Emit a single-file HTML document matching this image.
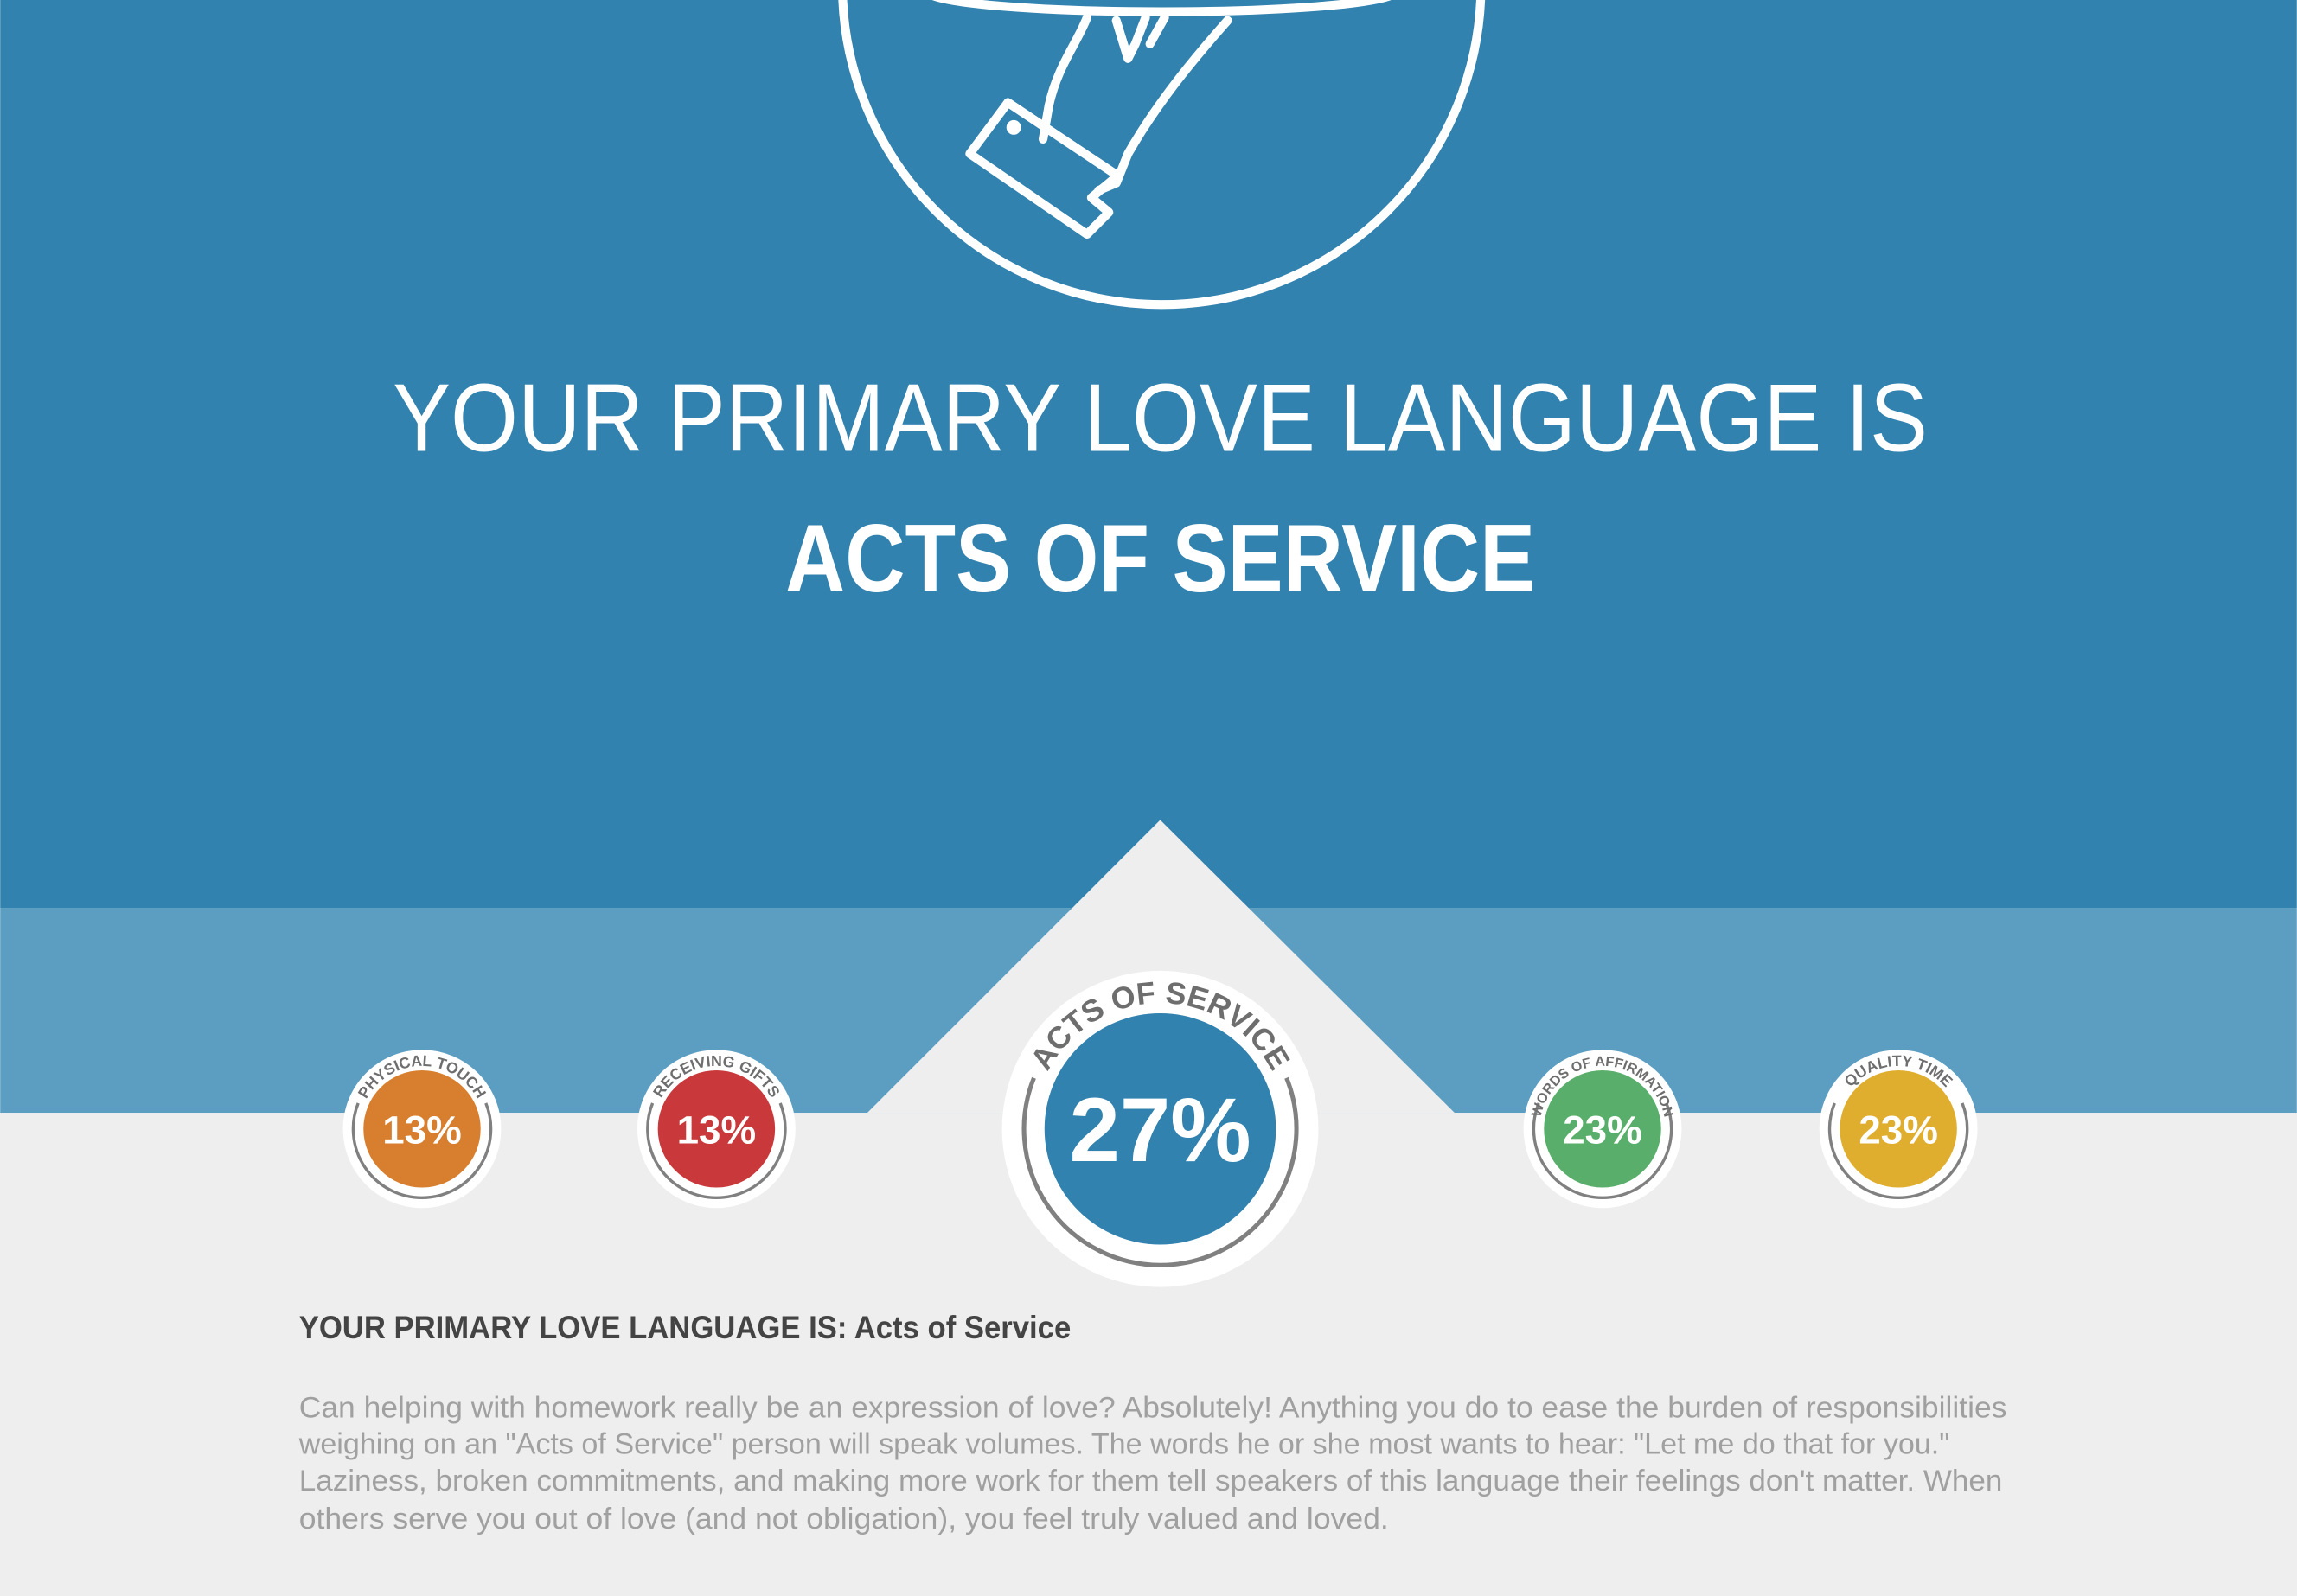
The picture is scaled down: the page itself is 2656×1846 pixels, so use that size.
<!DOCTYPE html>
<html><head><meta charset="utf-8"><style>
html,body{margin:0;padding:0;background:#eeeeee}
svg{display:block}
text{font-family:"Liberation Sans",sans-serif}
</style></head><body>
<svg id="chart" width="2656" height="1846" viewBox="0 0 1568 1090" xmlns="http://www.w3.org/2000/svg">
<rect x="0" y="0" width="1568" height="620" fill="#3182af"/>
<rect x="0" y="620" width="1568" height="140" fill="#5b9ec2"/>
<rect x="0" y="760" width="1568" height="330" fill="#eeeeee"/>
<polygon points="792,560 993,760 592,760" fill="#eeeeee"/>
<g fill="none" stroke="#fff" stroke-width="6" stroke-linejoin="round" stroke-linecap="round">
<circle cx="793" cy="-10" r="218"/>
<ellipse cx="793" cy="-6" rx="160" ry="14"/>
<path d="M742,12 C735,30 722,45 716,72 L712,95"/>
<path d="M762,14 L770,40 L775,30 L782,12"/>
<path d="M785,30 L795,12"/>
<path d="M838,14 C815,40 790,70 770,105 L762,125 L750,130"/>
<path d="M688,70 L662,105 L742,160 L757,145 L745,135 L763,120 Z"/>
<path d="M688,70 L763,120"/>
<circle cx="692" cy="87" r="2" fill="#fff"/>
</g>
<text x="792" y="308" text-anchor="middle" font-size="66" fill="#fff" textLength="1048" lengthAdjust="spacingAndGlyphs">YOUR PRIMARY LOVE LANGUAGE IS</text>
<text x="792" y="404" text-anchor="middle" font-size="66" font-weight="bold" fill="#fff" textLength="512" lengthAdjust="spacingAndGlyphs">ACTS OF SERVICE</text>
<g id="badges"></g>
<text x="204" y="914" font-size="22" font-weight="bold" fill="#444" textLength="527" lengthAdjust="spacingAndGlyphs">YOUR PRIMARY LOVE LANGUAGE IS: Acts of Service</text>
<g font-size="20" fill="#a0a0a0">
<text x="204" y="968" textLength="1166" lengthAdjust="spacingAndGlyphs">Can helping with homework really be an expression of love? Absolutely! Anything you do to ease the burden of responsibilities</text>
<text x="204" y="993" textLength="1127" lengthAdjust="spacingAndGlyphs">weighing on an "Acts of Service" person will speak volumes. The words he or she most wants to hear: "Let me do that for you."</text>
<text x="204" y="1018" textLength="1163" lengthAdjust="spacingAndGlyphs">Laziness, broken commitments, and making more work for them tell speakers of this language their feelings don't matter. When</text>
<text x="204" y="1044" textLength="744" lengthAdjust="spacingAndGlyphs">others serve you out of love (and not obligation), you feel truly valued and loved.</text>
</g>
</svg>
<script>
const categories = ["PHYSICAL TOUCH", "RECEIVING GIFTS", "ACTS OF SERVICE", "WORDS OF AFFIRMATION", "QUALITY TIME"];
const percents = [13, 13, 27, 23, 23];
const colors = ["#d77f2e", "#c9393b", "#3182af", "#58ae6a", "#dfae2f"];
const primaryIndex = 2;
const NS = "http://www.w3.org/2000/svg";
const g = document.getElementById("badges");
const slotX = [288, 489, 792, 1094, 1296];
function mk(tag, attrs, parent) {
  const e = document.createElementNS(NS, tag);
  for (const k in attrs) e.setAttribute(k, attrs[k]);
  parent.appendChild(e);
  return e;
}
function arc(cx, cy, r, a0, a1, sweep) {
  const p = a => [cx + r * Math.cos(a * Math.PI / 180), cy + r * Math.sin(a * Math.PI / 180)];
  const s = p(a0), e = p(a1);
  const large = Math.abs(a1 - a0) > 180 ? 1 : 0;
  return `M${s[0]},${s[1]} A${r},${r} 0 ${large} ${sweep} ${e[0]},${e[1]}`;
}
categories.forEach((cat, i) => {
  const big = i === primaryIndex;
  const cx = slotX[i], cy = 771;
  const grp = mk("g", {}, g);
  
  
  mk("circle", {cx, cy, r: big ? 108 : 54, fill: "#fff"}, grp);
  const ring = mk("path", {d: arc(cx, cy, big ? 93 : 47, -22, 202, 1), fill: "none", stroke: "#808080", "stroke-width": big ? 3 : 2}, grp);
  
  
  const c = mk("circle", {cx, cy, r: big ? 79 : 40, fill: colors[i]}, grp);
  
  
  const pid = "arc" + i;
  mk("path", {id: pid, d: arc(cx, cy, big ? 86 : 43, -200, 20, 1), fill: "none"}, grp);
  const long = cat.length > 16;
  const t = mk("text", {"font-size": big ? 21 : (long ? 9.5 : 10.5), fill: "#6e6e6e", "font-weight": "bold"}, grp);
  
  
  const tp = mk("textPath", {href: "#" + pid, startOffset: "50%", "text-anchor": "middle"}, t);
  tp.textContent = cat;
  const v = mk("text", {x: cx, y: cy + (big ? 22 : 10), "text-anchor": "middle", "font-size": big ? 62 : 27, "font-weight": "bold", fill: "#fff"}, grp);
  
  
  v.textContent = percents[i] + "%";
});
</script>
</body></html>
